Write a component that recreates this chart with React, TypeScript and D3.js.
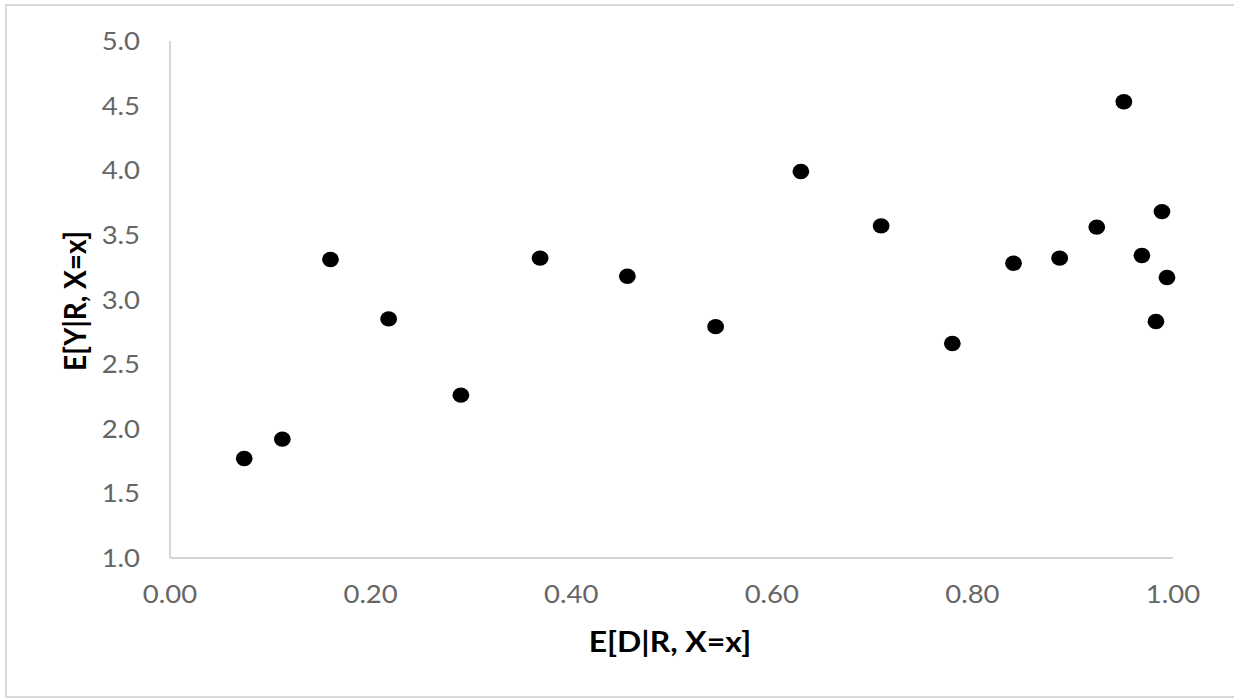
import React from "react";
import * as d3 from "d3";

const xValues = [0.074, 0.112, 0.160, 0.218, 0.290, 0.369, 0.456, 0.544, 0.629, 0.709, 0.780, 0.841, 0.887, 0.924, 0.951, 0.969, 0.989, 0.983, 0.994];
const yValues = [1.77, 1.92, 3.31, 2.85, 2.26, 3.32, 3.18, 2.79, 3.99, 3.57, 2.66, 3.28, 3.32, 3.56, 4.53, 3.34, 3.68, 2.83, 3.17];
const xTicks = [0, 0.2, 0.4, 0.6, 0.8, 1.0];
const yTicks = [1.0, 1.5, 2.0, 2.5, 3.0, 3.5, 4.0, 4.5, 5.0];
const xTitle = "E[D|R, X=x]";
const yTitle = "E[Y|R, X=x]";

const W = 1234;
const H = 698;
const left = 170, right = 1173, top = 41, bottom = 558;
const SX = 1.1;
const font = "Lato, 'Open Sans', sans-serif";

export default function App() {
  const x = d3.scaleLinear().domain([0, 1]).range([left, right]);
  const y = d3.scaleLinear().domain([1, 5]).range([bottom, top]);
  const fx = d3.format(".2f");
  const fy = d3.format(".1f");
  return (
    <svg width={W} height={H} style={{ position: "absolute", left: 0, top: 0, background: "#fff" }}>
      <rect x={0} y={0} width={W} height={H} fill="#fff" />
      <path d={`M${W},5 H6 V697 H${W}`} fill="none" stroke="#d9d9d9" strokeWidth={2} />
      <line x1={left} x2={left} y1={top} y2={bottom} stroke="#c8c8c8" strokeWidth={1.5} />
      <line x1={left} x2={right} y1={bottom} y2={bottom} stroke="#c8c8c8" strokeWidth={1.5} />
      {yTicks.map((t) => (
        <text key={"y" + t} transform={`translate(140,${y(t) + 9}) scale(${SX},1)`} textAnchor="end"
          fontFamily={font} fontSize={25} fill="#666666">{fy(t)}</text>
      ))}
      {xTicks.map((t) => (
        <text key={"x" + t} transform={`translate(${x(t)},603) scale(${SX},1)`} textAnchor="middle"
          fontFamily={font} fontSize={25} fill="#666666">{fx(t)}</text>
      ))}
      <text transform={`translate(670,652) scale(${SX},1)`} textAnchor="middle" fontFamily={font}
        fontSize={29} fontWeight="bold" fill="#000">{xTitle}</text>
      <text transform={`translate(86,301) scale(${SX},1) rotate(-90)`} textAnchor="middle" fontFamily={font}
        fontSize={28} fontWeight="bold" fill="#000">{yTitle}</text>
      {xValues.map((v, i) => (
        <ellipse key={i} cx={x(v)} cy={y(yValues[i])} rx={8.4} ry={7.7} fill="#000" />
      ))}
    </svg>
  );
}
